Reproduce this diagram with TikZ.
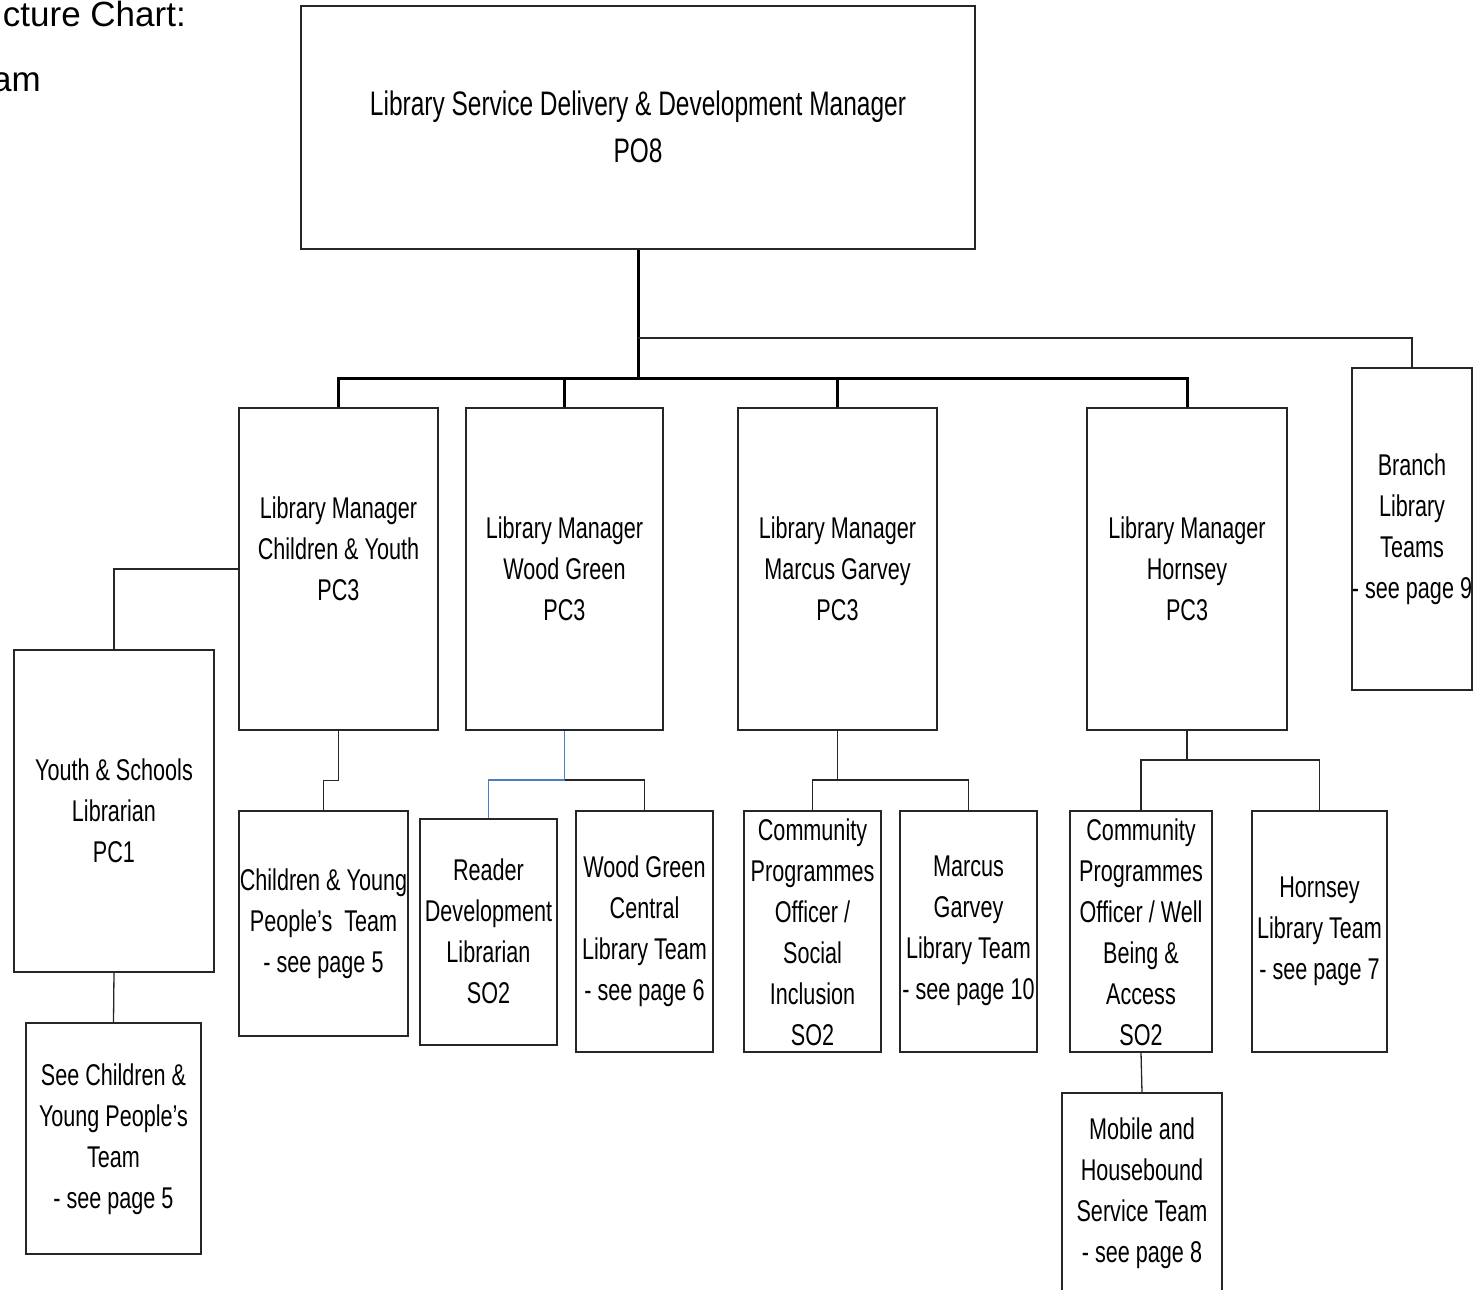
\documentclass[tikz,border=0pt]{standalone}
\usepackage{fontspec}
\setmainfont[FakeStretch=0.72]{Liberation Sans}
\newfontfamily\plainfont{Liberation Sans}
\tikzset{
  box/.style={draw=black!85, line width=1.3pt, inner sep=0pt, fill=none},
  txt/.style={inner sep=0pt, align=center, font=\fontsize{30}{41}\selectfont},
  conn/.style={draw=black!85, line width=1.3pt},
  bus/.style={draw=black, line width=3pt},
  blueconn/.style={draw={rgb,255:red,74;green,126;blue,193}, line width=1.3pt}
}
\begin{document}
\begin{tikzpicture}[x=1pt,y=-1pt]
\useasboundingbox (0,0) rectangle (1475,1290);
\clip (0,0) rectangle (1475,1290);
% heading fragments
\node[inner sep=0pt, anchor=base east, font=\plainfont\fontsize{35}{40}\selectfont] (hd1) at (186,27) {cture Chart:};
\node[inner sep=0pt, anchor=base east, font=\plainfont\fontsize{35}{40}\selectfont] (hd2) at (41,92) {am};
% boxes
\node[box, minimum width=674, minimum height=243] (top) at (638,127.5) {};
\node[box, minimum width=199, minimum height=322] (lmc) at (338.5,569) {};
\node[box, minimum width=197, minimum height=322] (lmw) at (564.5,569) {};
\node[box, minimum width=199, minimum height=322] (lmm) at (837.5,569) {};
\node[box, minimum width=200, minimum height=322] (lmh) at (1187,569) {};
\node[box, minimum width=120, minimum height=322] (branch) at (1412,529) {};
\node[box, minimum width=200, minimum height=322] (youth) at (114,811) {};
\node[box, minimum width=175, minimum height=231] (seecy) at (113.5,1138.5) {};
\node[box, minimum width=169, minimum height=225] (cyp) at (323.5,923.5) {};
\node[box, minimum width=137, minimum height=226] (reader) at (488.5,932) {};
\node[box, minimum width=137, minimum height=241] (wgc) at (644.5,931.5) {};
\node[box, minimum width=137, minimum height=241] (cpsi) at (812.5,931.5) {};
\node[box, minimum width=137, minimum height=241] (mgt) at (968.5,931.5) {};
\node[box, minimum width=142, minimum height=241] (cpwb) at (1141,931.5) {};
\node[box, minimum width=135, minimum height=241] (hlt) at (1319.5,931.5) {};
\node[box, minimum width=160, minimum height=227] (mob) at (1142,1206.5) {};
% texts
\node[txt, font=\fontsize{34}{47}\selectfont] (ttop) at (638,127) {Library Service Delivery \& Development Manager\\PO8};
\node[txt] (tlmc) at (338.5,549) {Library Manager\\Children \& Youth\\PC3};
\node[txt] (tlmw) at (564.5,569) {Library Manager\\Wood Green\\PC3};
\node[txt] (tlmm) at (837.5,569) {Library Manager\\Marcus Garvey\\PC3};
\node[txt] (tlmh) at (1187,569) {Library Manager\\Hornsey\\PC3};
\node[txt] (tbranch) at (1412,529) {Branch\\Library\\Teams\\- see page 9};
\node[txt] (tyouth) at (114,811) {Youth \& Schools\\Librarian\\PC1};
\node[txt] (tseecy) at (113.5,1139) {See Children \&\\Young People’s\\Team\\- see page 5};
\node[txt] (tcyp) at (323.5,924) {Children \& Young\\People’s\ \ Team\\- see page 5};
\node[txt] (treader) at (488.5,931) {Reader\\Development\\Librarian\\SO2};
\node[txt] (twgc) at (644.5,931) {Wood Green\\Central\\Library Team\\- see page 6};
\node[txt] (tcpsi) at (812.5,932) {Community\\Programmes\\Officer /\\Social\\Inclusion\\SO2};
\node[txt] (tmgt) at (968.5,931) {Marcus\\Garvey\\Library Team\\- see page 10};
\node[txt] (tcpwb) at (1141,932) {Community\\Programmes\\Officer / Well\\Being \&\\Access\\SO2};
\node[txt] (thlt) at (1319.5,931) {Hornsey\\Library Team\\- see page 7};
\node[txt] (tmob) at (1142,1193) {Mobile and\\Housebound\\Service Team\\- see page 8};
% connectors
\coordinate (hub) at (638,378);
\coordinate (tap) at (638,338);
\draw[bus] (top.south) -- (hub);
\draw[bus] (lmc.north) |- (hub) -| (lmh.north);
\draw[bus] (lmw.north) -- (lmw.north |- hub);
\draw[bus] (lmm.north) -- (lmm.north |- hub);
\draw[conn] (tap) -| (branch.north);
\draw[conn] (lmc.west) -| (youth.north);
\draw[conn] (youth.south) -- (seecy.north);
\draw[conn] (lmc.south) -- ++(0,50) -| (cyp.north);
\coordinate (wj) at (564.5,780);
\draw[blueconn] (lmw.south) -- (wj) -| (reader.north);
\draw[conn] (wj) -| (wgc.north);
\coordinate (mj) at (837.5,780);
\draw[conn] (lmm.south) -- (mj);
\draw[conn] (cpsi.north) |- (mj) -| (mgt.north);
\coordinate (hj) at (1187,760);
\draw[conn] (lmh.south) -- (hj);
\draw[conn] (cpwb.north) |- (hj) -| (hlt.north);
\draw[conn] (cpwb.south) -- (mob.north);
\end{tikzpicture}
\end{document}
